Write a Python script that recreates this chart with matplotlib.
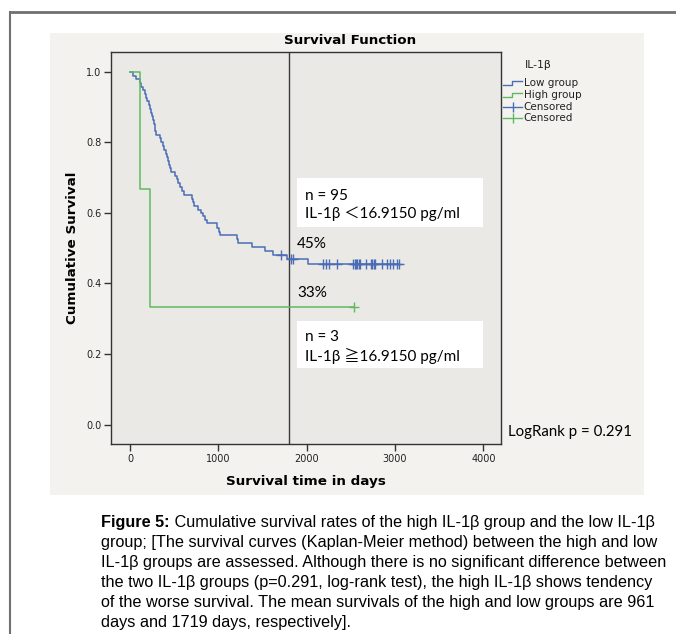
import matplotlib
matplotlib.use("Agg")
import matplotlib.pyplot as plt
from matplotlib.lines import Line2D
from matplotlib.patches import Rectangle
import numpy as np

W, H = 676, 634

# ---------------- data ----------------
low_t = [0, 37, 68, 113, 130, 151, 166, 181, 196, 211, 226, 239, 252, 264, 272, 280, 287, 294,
         340, 354, 372, 390, 408, 420, 434, 444, 454, 464, 510, 530, 547, 565, 585, 611,
         698, 712, 725, 774, 800, 823, 850, 876, 982, 1011, 1020, 1208, 1220, 1378, 1529,
         1623, 1781, 2020, 3050]
low_s = [1.0, 0.989, 0.979, 0.968, 0.958, 0.947, 0.937, 0.926, 0.916, 0.905, 0.895, 0.884,
         0.874, 0.863, 0.853, 0.842, 0.832, 0.821,
         0.811, 0.800, 0.789, 0.779, 0.768, 0.758, 0.747, 0.737, 0.726, 0.716,
         0.705, 0.695, 0.684, 0.674, 0.663, 0.651,
         0.640, 0.630, 0.620, 0.609, 0.600, 0.591, 0.580, 0.570, 0.558, 0.547, 0.536,
         0.525, 0.515, 0.503, 0.491, 0.481, 0.470, 0.455, 0.455]
low_cens = [1710, 1820, 1850, 2190, 2220, 2257, 2340, 2530, 2545, 2560, 2575, 2590, 2604,
            2672, 2725, 2740, 2760, 2775, 2850, 2907, 2945, 2975, 3027, 3050]

high_t = [0, 117, 226, 2540]
high_s = [1.0, 0.667, 0.333, 0.333]
high_cens = [2540]

xticks = [0, 1000, 2000, 3000, 4000]
yticks = [0.0, 0.2, 0.4, 0.6, 0.8, 1.0]
cut_day = 1800

blue = "#4a6db6"
green = "#5dbb5d"

def surv_at(ts, ss, t):
    idx = np.searchsorted(ts, t, side="right") - 1
    return ss[idx]

# ---------------- figure ----------------
fig = plt.figure(figsize=(W / 100, H / 100), dpi=100)
fig.patch.set_facecolor("white")

def fx(x):
    return x / W

def fy(y):
    return 1 - y / H

# textured panel background (flat)
fig.add_artist(Rectangle((fx(50), fy(495)), (644 - 50) / W, (495 - 33) / H,
                         transform=fig.transFigure, facecolor="#f3f2ef",
                         edgecolor="none", zorder=0))
# outer frame
fig.add_artist(Line2D([fx(10), fx(676)], [fy(12), fy(12)], transform=fig.transFigure,
                      color="#707070", lw=2))
fig.add_artist(Line2D([fx(10), fx(10)], [fy(12), fy(634)], transform=fig.transFigure,
                      color="#707070", lw=1.5))

ax = fig.add_axes([fx(111), fy(444), (501 - 111) / W, (444 - 52) / H])
ax.set_facecolor("#ebe9e6")
ax.set_xlim(-215, 4200)
ax.set_ylim(-0.0547, 1.0558)

ax.step(low_t, low_s, where="post", color=blue, lw=1.1, zorder=3)
ax.step(high_t, high_s, where="post", color=green, lw=1.1, zorder=3)
ax.plot(low_cens, [surv_at(low_t, low_s, t) for t in low_cens], ls="none",
        marker="+", ms=7, mew=1.0, color=blue, zorder=4)
ax.plot(high_cens, [surv_at(high_t, high_s, t) for t in high_cens], ls="none",
        marker="+", ms=7, mew=1.0, color=green, zorder=4)

ax.axvline(cut_day, color="#3a3a3a", lw=1.0, zorder=2)

ax.set_xticks(xticks)
ax.set_yticks(yticks)
ax.set_xticklabels([str(v) for v in xticks])
ax.set_yticklabels([f"{v:.1f}" for v in yticks])
ax.tick_params(axis="both", direction="out", length=5, width=1, color="#333333",
               labelsize=7, labelcolor="#222222", pad=2)
for s in ax.spines.values():
    s.set_color("#333333")
    s.set_linewidth(1.0)

fig.text(fx(350), fy(41), "Survival Function", fontsize=9.7, fontweight="bold",
         ha="center", va="center")
ax.set_xlabel("Survival time in days", fontsize=9.7, fontweight="bold", labelpad=8)
ax.set_ylabel("Cumulative Survival", fontsize=9.7, fontweight="bold", labelpad=5)

# annotation boxes
calib = ["Lato", "Noto Sans CJK JP", "DejaVu Sans"]
ann_fs = 11
for (x0, y0, x1, y1) in [(297, 178, 483, 227), (297, 321, 483, 368)]:
    fig.add_artist(Rectangle((fx(x0), fy(y1)), (x1 - x0) / W, (y1 - y0) / H,
                             transform=fig.transFigure, facecolor="white",
                             edgecolor="none", zorder=5))
fig.text(fx(305), fy(196), "n = 95", fontsize=ann_fs, family=calib, va="center",
         ha="left", zorder=6)
fig.text(fx(305), fy(214), "IL-1β \uff1c16.9150 pg/ml", fontsize=ann_fs, family=calib,
         va="center", ha="left", zorder=6)
fig.text(fx(305), fy(337), "n = 3", fontsize=ann_fs, family=calib, va="center",
         ha="left", zorder=6)
fig.text(fx(305), fy(356), "IL-1β \u226716.9150 pg/ml", fontsize=ann_fs, family=calib,
         va="center", ha="left", zorder=6)
fig.text(fx(297), fy(244), "45%", fontsize=ann_fs, family=calib, va="center", ha="left",
         zorder=6)
fig.text(fx(297), fy(293), "33%", fontsize=ann_fs, family=calib, va="center", ha="left",
         zorder=6)

# LogRank
fig.text(fx(508), fy(432), "LogRank p = 0.291", fontsize=10.8, family=calib,
         va="center", ha="left")

# legend (manual)
fig.text(fx(525), fy(65), "IL-1β", fontsize=7.8, va="center", ha="left", color="#222222")
leg_y = [83, 95, 106.5, 118]
leg_lbl = ["Low group", "High group", "Censored", "Censored"]
leg_col = [blue, green, blue, green]
for i, (yy, lb, c) in enumerate(zip(leg_y, leg_lbl, leg_col)):
    if i < 2:
        fig.add_artist(Line2D([fx(503), fx(512), fx(512), fx(522)],
                              [fy(yy + 2), fy(yy + 2), fy(yy - 2), fy(yy - 2)],
                              transform=fig.transFigure, color=c, lw=1))
    else:
        fig.add_artist(Line2D([fx(503), fx(522)], [fy(yy), fy(yy)],
                              transform=fig.transFigure, color=c, lw=1))
        fig.add_artist(Line2D([fx(512.5)], [fy(yy)], transform=fig.transFigure,
                              color=c, marker="|", ms=7, mew=1, ls="none"))
    fig.text(fx(523.5), fy(yy), lb, fontsize=7.5, va="center", ha="left", color="#222222")

# caption
cap_font = "Liberation Sans"
cap_fs = 11.7
lines = [
    "Cumulative survival rates of the high IL-1\u03b2 group and the low IL-1\u03b2",
    "group; [The survival curves (Kaplan-Meier method) between the high and low",
    "IL-1\u03b2 groups are assessed. Although there is no significant difference between",
    "the two IL-1\u03b2 groups (p=0.291, log-rank test), the high IL-1\u03b2 shows tendency",
    "of the worse survival. The mean survivals of the high and low groups are 961",
    "days and 1719 days, respectively].",
]
y0 = 522
dy = 20
t0 = fig.text(fx(101), fy(y0), "Figure 5:", fontsize=cap_fs, family=cap_font,
              fontweight="bold", va="center", ha="left")
plt.annotate(" " + lines[0], xy=(1, 0.5), xycoords=t0, fontsize=cap_fs,
             family=cap_font, va="center", ha="left", annotation_clip=False)
for i, ln in enumerate(lines[1:], start=1):
    fig.text(fx(101), fy(y0 + dy * i), ln, fontsize=cap_fs, family=cap_font,
             va="center", ha="left")

fig.savefig("out.png", dpi=100)
